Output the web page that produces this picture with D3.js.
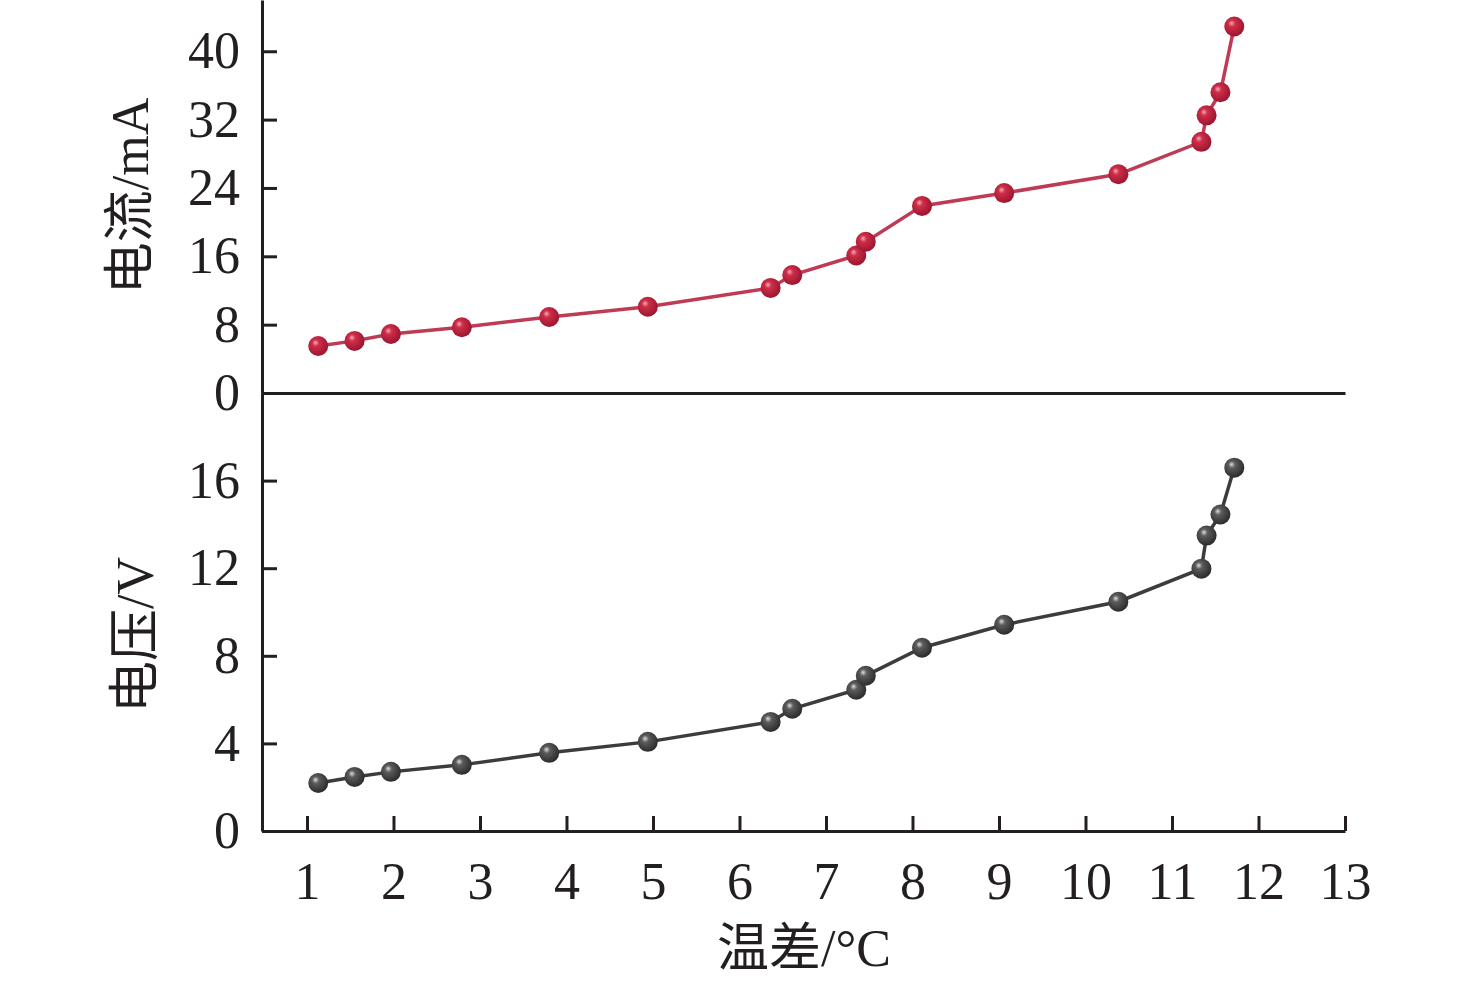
<!DOCTYPE html>
<html>
<head>
<meta charset="UTF-8">
<title>温差-电流/电压</title>
<script src="https://cdn.jsdelivr.net/npm/d3@7/dist/d3.min.js"></script>
<style>
  body { margin: 0; background: #fff; }
  svg text { font-family: "Liberation Serif", "Times New Roman", "Noto Sans CJK SC", serif; fill: #231f20; }
  .axis path, .axis line { stroke: #231f20; stroke-width: 3; }
</style>
</head>
<body>
<svg id="chart" width="1476" height="984"></svg>
<script>
// temperature difference (°C)
var tempDiff = [1.13, 1.55, 1.97, 2.79, 3.80, 4.94, 6.36, 6.61, 7.35, 7.46, 8.11, 9.06, 10.38, 11.34, 11.40, 11.56, 11.72];
// current (mA)
var current = [5.5, 6.1, 6.9, 7.7, 8.9, 10.1, 12.3, 13.8, 16.1, 17.7, 21.9, 23.4, 25.6, 29.4, 32.5, 35.2, 42.9];
// voltage (V)
var voltage = [2.19, 2.47, 2.70, 3.02, 3.57, 4.07, 4.98, 5.58, 6.45, 7.09, 8.37, 9.42, 10.47, 11.98, 13.49, 14.45, 16.59];

var xTicks = [1, 2, 3, 4, 5, 6, 7, 8, 9, 10, 11, 12, 13];
var currentTicks = [0, 8, 16, 24, 32, 40];
var voltageTicks = [0, 4, 8, 12, 16];

var svg = d3.select('#chart');

var x = d3.scaleLinear().domain([0.48, 13]).range([262, 1345]);
var yTop = d3.scaleLinear().domain([0, 46]).range([393, 0]);
var yBot = d3.scaleLinear().domain([0, 20]).range([831, 393]);

// sphere gradients
var defs = svg.append('defs');
function sphere(id, hi, mid, edge) {
  var g = defs.append('radialGradient').attr('id', id)
    .attr('cx', '42%').attr('cy', '40%').attr('r', '62%').attr('fx', '36%').attr('fy', '33%');
  g.append('stop').attr('offset', '0%').attr('stop-color', hi);
  g.append('stop').attr('offset', '28%').attr('stop-color', mid);
  g.append('stop').attr('offset', '100%').attr('stop-color', edge);
}
sphere('redBall', '#f3aab6', '#cf2d48', '#99152e');
sphere('grayBall', '#dcdcdc', '#5c5c5c', '#2a2a2a');

// axes
svg.append('g').attr('class', 'axis')
  .call(d3.axisLeft(yTop).tickValues(currentTicks).tickSize(-15).tickSizeOuter(0).tickPadding(22))
  .attr('transform', 'translate(262,0)');
svg.append('g').attr('class', 'axis')
  .call(d3.axisLeft(yBot).tickValues(voltageTicks).tickSize(-15).tickSizeOuter(0).tickPadding(22))
  .attr('transform', 'translate(262,0)');
svg.append('g').attr('class', 'axis')
  .attr('transform', 'translate(0,393)')
  .call(d3.axisBottom(x).tickValues([]).tickSizeOuter(0));
svg.append('g').attr('class', 'axis')
  .attr('transform', 'translate(0,831)')
  .call(d3.axisBottom(x).tickValues(xTicks).tickSize(-15).tickSizeOuter(0).tickPadding(31));

svg.selectAll('.axis text').style('font-size', '52px').style('font-family', '"Liberation Serif", "Times New Roman", serif').attr('fill', '#231f20');

// series
function drawSeries(vals, y, lineColor, ball) {
  var pts = tempDiff.map(function(t, i) { return [t, vals[i]]; });
  svg.append('path').datum(pts)
    .attr('fill', 'none').attr('stroke', lineColor).attr('stroke-width', 3.5)
    .attr('d', d3.line().x(function(d) { return x(d[0]); }).y(function(d) { return y(d[1]); }));
  svg.append('g').selectAll('circle').data(pts).enter().append('circle')
    .attr('cx', function(d) { return x(d[0]); })
    .attr('cy', function(d) { return y(d[1]); })
    .attr('r', 10)
    .attr('fill', 'url(#' + ball + ')');
}
drawSeries(current, yTop, '#bf3a55', 'redBall');
drawSeries(voltage, yBot, '#3c3c3c', 'grayBall');

// labels
svg.append('text').attr('transform', 'translate(148,196) rotate(-90)')
  .attr('text-anchor', 'middle').style('font-size', '52px').text('电流/mA');
svg.append('text').attr('transform', 'translate(153,635) rotate(-90)')
  .attr('text-anchor', 'middle').style('font-size', '52px').text('电压/V');
svg.append('text').attr('x', 804).attr('y', 966)
  .attr('text-anchor', 'middle').style('font-size', '52px').text('温差/°C');
</script>
</body>
</html>
